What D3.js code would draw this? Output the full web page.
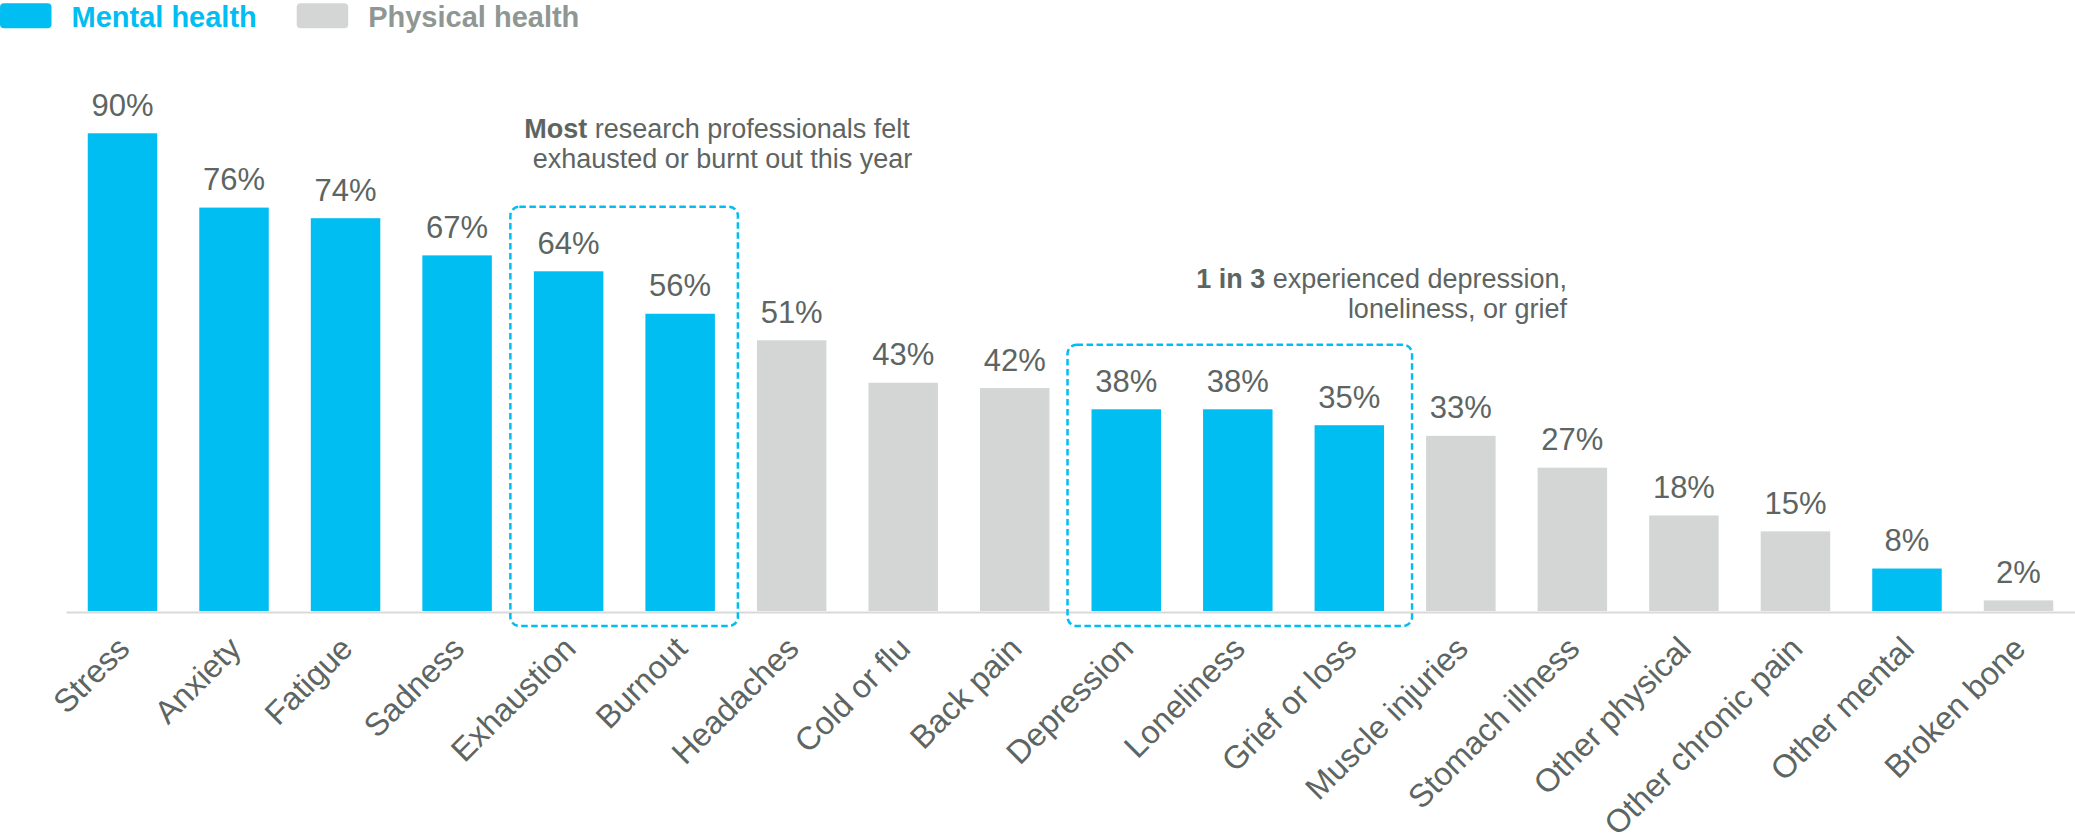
<!DOCTYPE html>
<html>
<head>
<meta charset="utf-8">
<script src="https://cdn.jsdelivr.net/npm/d3@7"></script>
<style>
  html, body { margin: 0; padding: 0; background: #ffffff; }
  svg { display: block; font-family: "Liberation Sans", Arial, sans-serif; }
</style>
</head>
<body>
<svg id="chart" width="2075" height="833"></svg>
<script>
// ---- data ----
const categories = ["Stress", "Anxiety", "Fatigue", "Sadness", "Exhaustion", "Burnout",
  "Headaches", "Cold or flu", "Back pain", "Depression", "Loneliness", "Grief or loss",
  "Muscle injuries", "Stomach illness", "Other physical", "Other chronic pain",
  "Other mental", "Broken bone"];
const values = [90, 76, 74, 67, 64, 56, 51, 43, 42, 38, 38, 35, 33, 27, 18, 15, 8, 2];
const groups = ["Mental", "Mental", "Mental", "Mental", "Mental", "Mental",
  "Physical", "Physical", "Physical", "Mental", "Mental", "Mental",
  "Physical", "Physical", "Physical", "Physical", "Mental", "Physical"];
const seriesNames = ["Mental health", "Physical health"];
const highlight1 = ["Exhaustion", "Burnout"];
const highlight2 = ["Depression", "Loneliness", "Grief or loss"];

// ---- styles ----
const BLUE = "#00bdf2";
const GREY = "#d3d6d5";
const TEXT = "#5d6562";
const LEGEND_GREY = "#8f9794";

const svg = d3.select("#chart");

const x = d3.scaleBand()
  .domain(categories)
  .range([66, 2075])
  .paddingInner(0.377)
  .paddingOuter(0.195);

const y = d3.scaleLinear().domain([0, 100]).range([611, 80.2]);

const color = d3.scaleOrdinal().domain(["Mental", "Physical"]).range([BLUE, GREY]);

const data = categories.map((c, i) => ({ cat: c, v: values[i], g: groups[i] }));

// bars
svg.append("g").selectAll("rect")
  .data(data)
  .join("rect")
  .attr("x", d => x(d.cat))
  .attr("y", d => y(d.v))
  .attr("width", x.bandwidth())
  .attr("height", d => y(0) - y(d.v))
  .attr("fill", d => color(d.g));

// value labels
svg.append("g").selectAll("text")
  .data(data)
  .join("text")
  .attr("x", d => x(d.cat) + x.bandwidth() / 2)
  .attr("y", d => y(d.v) - 17.5)
  .attr("text-anchor", "middle")
  .attr("font-size", 31)
  .attr("fill", TEXT)
  .text(d => d.v + "%");

// x axis
const xAxis = svg.append("g")
  .attr("transform", "translate(0,612)")
  .call(d3.axisBottom(x).tickSize(0).tickSizeOuter(0));
xAxis.select(".domain").attr("stroke", "#d9d9d9").attr("stroke-width", 2);
xAxis.selectAll(".tick text")
  .attr("y", null).attr("dy", null)
  .attr("text-anchor", "end")
  .attr("transform", "translate(9,38.5) rotate(-45)")
  .attr("font-size", 32.3)
  .attr("font-family", "'Liberation Sans', Arial, sans-serif")
  .attr("fill", TEXT);

// highlight boxes
function box(cats, padL, padR) {
  const maxV = d3.max(data.filter(d => cats.includes(d.cat)), d => d.v);
  const x0 = x(cats[0]) - padL;
  const x1 = x(cats[cats.length - 1]) + x.bandwidth() + padR;
  const y0 = y(maxV) - 64.5;
  const y1 = y(0) + 15;
  svg.append("rect")
    .attr("x", x0).attr("y", y0)
    .attr("width", x1 - x0).attr("height", y1 - y0)
    .attr("rx", 9).attr("ry", 9)
    .attr("fill", "none")
    .attr("stroke", BLUE)
    .attr("stroke-width", 2.5)
    .attr("stroke-dasharray", "6.5,3.5");
}
box(highlight1, 23.5, 23);
box(highlight2, 24, 28);

// annotations
function annot(lines, anchor) {
  const t = svg.append("text")
    .attr("font-size", 27)
    .attr("fill", TEXT)
    .attr("text-anchor", anchor);
  lines.forEach(l => {
    const line = t.append("tspan").attr("x", l.x).attr("y", l.y);
    l.parts.forEach(p => {
      line.append("tspan").attr("font-weight", p.b ? "bold" : null).text(p.t);
    });
  });
}
annot([
  { x: 717, y: 137.7, parts: [{ t: "Most", b: true }, { t: " research professionals felt" }] },
  { x: 722.5, y: 168.3, parts: [{ t: "exhausted or burnt out this year" }] }
], "middle");
annot([
  { x: 1567, y: 287.7, parts: [{ t: "1 in 3", b: true }, { t: " experienced depression," }] },
  { x: 1567, y: 318.3, parts: [{ t: "loneliness, or grief" }] }
], "end");

// legend
const legend = svg.append("g");
const legendItems = [
  { name: seriesNames[0], fill: BLUE, text: BLUE, x: 0 },
  { name: seriesNames[1], fill: GREY, text: LEGEND_GREY, x: 296.7 }
];
legendItems.forEach(it => {
  legend.append("rect")
    .attr("x", it.x).attr("y", 3.3)
    .attr("width", 51.5).attr("height", 25)
    .attr("rx", 4).attr("ry", 4)
    .attr("fill", it.fill);
  legend.append("text")
    .attr("x", it.x + 71.5).attr("y", 26.7)
    .attr("font-size", 29).attr("font-weight", "bold")
    .attr("fill", it.text)
    .text(it.name);
});
</script>
</body>
</html>
